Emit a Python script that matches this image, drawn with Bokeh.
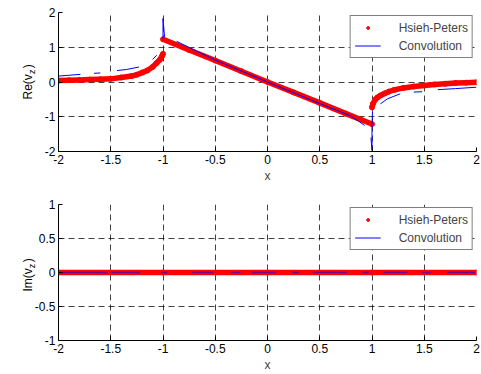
import math
from bokeh.plotting import figure
from bokeh.models import Range1d, FixedTicker, Legend, LegendItem, Label
from bokeh.layouts import column
from bokeh.embed import file_html
from bokeh.resources import INLINE

nan = float("nan")
FONT = "Liberation Sans"

# ---- data ----
x_ticks = [-2, -1.5, -1, -0.5, 0, 0.5, 1, 1.5, 2]
x_tick_labels = ["-2", "-1.5", "-1", "-0.5", "0", "0.5", "1", "1.5", "2"]
re_ticks = [-2, -1, 0, 1, 2]
re_tick_labels = ["-2", "-1", "0", "1", "2"]
im_ticks = [-1, -0.5, 0, 0.5, 1]
im_tick_labels = ["-1", "-0.5", "0", "0.5", "1"]

# Hsieh-Peters, real part (three branches)
hp_left_x = [-2.0, -1.9, -1.8, -1.7, -1.6, -1.5, -1.4, -1.3, -1.25, -1.2, -1.15, -1.1, -1.06, -1.03, -1.01, -1.0]
hp_left_re = [0.04, 0.05, 0.06, 0.07, 0.08, 0.09, 0.13, 0.17, 0.21, 0.27, 0.33, 0.43, 0.55, 0.64, 0.74, 0.81]
hp_mid_x = [-1.0, -0.75, -0.5, -0.25, 0.0, 0.25, 0.5, 0.75, 1.0]
hp_mid_re = [1.23, 0.92, 0.62, 0.31, 0.0, -0.30, -0.60, -0.91, -1.21]
hp_right_x = [1.0, 1.01, 1.03, 1.05, 1.08, 1.12, 1.16, 1.21, 1.3, 1.4, 1.5, 1.6, 1.7, 1.8, 1.9, 2.0]
hp_right_re = [-0.73, -0.62, -0.51, -0.45, -0.39, -0.33, -0.28, -0.23, -0.17, -0.13, -0.10, -0.07, -0.05, -0.03, -0.02, -0.01]

# Convolution, real part (gaps as seen in the picture)
conv_x = [-2.0, -1.79, nan, -1.66, -1.6, nan, -1.44, -1.35, -1.23, nan, -1.1, -1.06, nan,
          -1.0, -1.0, -0.985, nan, -0.87, -0.5, 0.0, 0.5, 0.8, 0.93, nan,
          0.99, 1.0, 1.0, 1.005, nan, 1.08, 1.15, 1.27, nan, 1.4, 1.48, nan, 1.63, 1.8, 2.0]
conv_re = [0.17, 0.22, nan, 0.25, 0.26, nan, 0.33, 0.36, 0.43, nan, 0.65, 0.77, nan,
           1.25, 1.83, 1.30, nan, 1.17, 0.63, 0.0, -0.62, -0.98, -1.25, nan,
           -1.6, -1.97, -1.2, -0.85, nan, -0.63, -0.48, -0.34, nan, -0.29, -0.28, nan, -0.22, -0.19, -0.15]

# Imaginary parts
hp_im_x = [-2.0, -1.0, 0.0, 1.0, 2.0]
hp_im = [0.0, 0.0, 0.0, 0.0, 0.0]
conv_im_x = [-2.0, -1.53, nan, -1.5, -1.22, nan, -1.02, -0.96, nan, -0.72, -0.52, nan, -0.35, -0.26, nan,
             -0.15, 0.08, nan, 0.24, 0.30, nan, 0.44, 0.76, nan, 0.91, 0.97, nan, 1.11, 1.34, nan,
             1.48, 1.56, nan, 1.72, 1.99]
conv_im = [0.0, 0.0, nan, 0.0, 0.0, nan, 0.0, 0.0, nan, 0.0, 0.0, nan, 0.0, 0.0, nan,
           0.0, 0.0, nan, 0.0, 0.0, nan, 0.0, 0.0, nan, 0.0, 0.0, nan, 0.0, 0.0, nan,
           0.0, 0.0, nan, 0.0, 0.0]

RED = "#ff0000"
BLUE = "#0000ff"


def make_fig(height, b_top, b_bottom, y_lo, y_hi, yticks, ylabels):
    p = figure(width=481, height=height, output_backend="svg", toolbar_location=None,
               x_range=Range1d(-2, 2), y_range=Range1d(y_lo, y_hi),
               min_border_left=58, min_border_right=5, min_border_top=b_top,
               min_border_bottom=b_bottom)
    p.outline_line_color = None
    p.background_fill_color = "white"
    p.border_fill_color = "white"
    p.xaxis.ticker = FixedTicker(ticks=x_ticks)
    p.yaxis.ticker = FixedTicker(ticks=yticks)
    p.xaxis.major_label_overrides = {t: l for t, l in zip(x_ticks, x_tick_labels)}
    p.yaxis.major_label_overrides = {t: l for t, l in zip(yticks, ylabels)}
    for ax in (p.xaxis, p.yaxis):
        ax.axis_line_color = "black"
        ax.axis_line_width = 1
        ax.major_tick_in = 4
        ax.major_tick_out = 0
        ax.major_tick_line_color = "black"
        ax.minor_tick_line_color = None
        ax.major_label_text_font = FONT
        ax.major_label_text_font_size = "12px"
        ax.major_label_text_color = "black"
        ax.major_label_standoff = 3
    p.xaxis.axis_label = "x"
    p.xaxis.axis_label_text_font = FONT
    p.xaxis.axis_label_text_font_size = "12px"
    p.xaxis.axis_label_text_font_style = "normal"
    p.xaxis.axis_label_standoff = 2
    for g in (p.xgrid, p.ygrid):
        g.grid_line_color = "black"
        g.grid_line_alpha = 0.75
        g.grid_line_dash = "6 4"
        g.grid_line_width = 1
    p.xgrid.ticker = FixedTicker(ticks=x_ticks)
    p.ygrid.ticker = FixedTicker(ticks=yticks)
    return p


def add_ylabel(p, main, cy_start, cy_sub):
    # main text with a gap (en space) where the subscript goes
    common = dict(angle=math.pi / 2, text_font=FONT, text_color="black",
                  text_align="left", text_baseline="middle",
                  x_units="canvas", y_units="canvas")
    p.add_layout(Label(x=27, y=cy_start, text=main + "\u2002)", text_font_size="12px", **common), "left")
    p.add_layout(Label(x=31, y=cy_sub, text="z", text_font_size="9px", **common), "left")


def add_legend(p, hp_r, conv_line):
    legend = Legend(items=[LegendItem(label="Hsieh-Peters", renderers=[hp_r]),
                           LegendItem(label="Convolution", renderers=[conv_line])],
                    location="top_right")
    legend.margin = 3
    legend.padding = 4
    legend.spacing = 3
    legend.glyph_width = 26
    legend.glyph_height = 7
    legend.label_height = 15
    legend.label_standoff = 18
    legend.label_text_font = FONT
    legend.label_text_font_size = "12px"
    legend.border_line_color = "black"
    legend.border_line_width = 1
    legend.background_fill_color = "white"
    legend.background_fill_alpha = 1
    p.add_layout(legend)


def legend_markers(p):
    dot_red = p.scatter(x=[nan], y=[nan], size=4, marker="circle", fill_color=RED, line_color=RED)
    line_blue = p.line(x=[nan, nan], y=[nan, nan], line_color=BLUE, line_width=1)
    return dot_red, line_blue


# ---- top: real part ----
p1 = make_fig(185, 12, 34, -2, 2, re_ticks, re_tick_labels)
for xs, ys in ((hp_left_x, hp_left_re), (hp_mid_x, hp_mid_re), (hp_right_x, hp_right_re)):
    p1.line(xs, ys, line_color=RED, line_width=5.5)
    p1.scatter(xs, ys, size=5, marker="circle", fill_color=RED, line_color=RED)
p1.line(conv_x, conv_re, line_color=BLUE, line_width=1)
add_legend(p1, *legend_markers(p1))
add_ylabel(p1, "Re(v", 99, 73.5)

# ---- bottom: imaginary part ----
p2 = make_fig(189, 19, 33, -1, 1, im_ticks, im_tick_labels)
p2.line(hp_im_x, hp_im, line_color=RED, line_width=5.5)
p2.scatter(hp_im_x, hp_im, size=5, marker="circle", fill_color=RED, line_color=RED)
p2.line(conv_im_x, conv_im, line_color=BLUE, line_width=1.5, line_alpha=0.55)
add_legend(p2, *legend_markers(p2))
add_ylabel(p2, "Im(v", 106, 82.7)

layout = column(p1, p2, spacing=0)
open("out.html", "w").write(file_html(layout, INLINE))
